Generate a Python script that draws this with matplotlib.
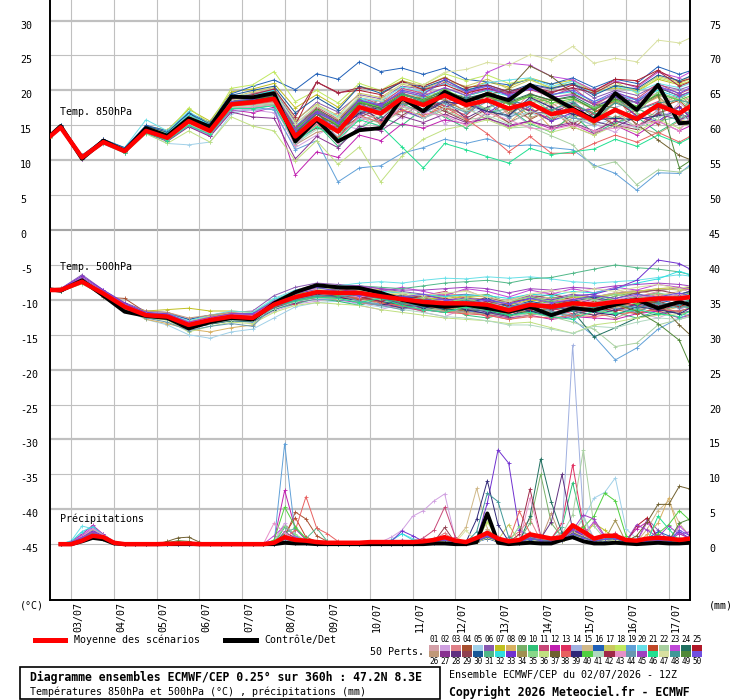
import numpy as np
import matplotlib
matplotlib.use("Agg")
import matplotlib.pyplot as plt
import matplotlib.transforms as mtransforms
from matplotlib.lines import Line2D
from matplotlib.patches import Rectangle

plt.rcParams["font.family"] = ["DejaVu Sans Mono", "DejaVu Sans"]

# hours after 02/07/2026 12Z
temp_hours = [0, 6, 18, 30, 42, 54, 66, 78, 90, 102, 114, 126, 138, 150, 162, 174,
              186, 198, 210, 222, 234, 246, 258, 270, 282, 294, 306, 318, 330, 342, 354, 360]
rain_hours = np.arange(6, 361, 6)

dates = ["03/07", "04/07", "05/07", "06/07", "07/07", "08/07", "09/07", "10/07",
         "11/07", "12/07", "13/07", "14/07", "15/07", "16/07", "17/07"]
date_hours = [12, 36, 60, 84, 108, 132, 156, 180, 204, 228, 252, 276, 300, 324, 348]

left_ticks = [30, 25, 20, 15, 10, 5, 0, -5, -10, -15, -20, -25, -30, -35, -40, -45]
right_ticks = [75, 70, 65, 60, 55, 50, 45, 40, 35, 30, 25, 20, 15, 10, 5, 0]
PRECIP_BASE = -45  # 0 mm sits on the -45 line

member_colors = [
    "#d4a0a8", "#d0a0e0", "#e08088", "#a85030", "#a0d0e8", "#8858b0", "#c0c020", "#d8b060",
    "#78b068", "#30c078", "#c84878", "#c020b0", "#e03060", "#a0b0e0", "#d0b888", "#2060b8",
    "#c8c860", "#c0e860", "#60a0d8", "#68e0e8", "#c04828", "#a8d0a0", "#c048d8", "#207060",
    "#b01828", "#c09878", "#883090", "#603080", "#904050", "#185898", "#50b888", "#30e0e0",
    "#7030d0", "#a09050", "#88d888", "#c0e080", "#706030", "#e86060", "#302878", "#50d040",
    "#b0d8c0", "#a02848", "#e890c8", "#6898b0", "#a040c0", "#20e090", "#d8e0a0", "#409898",
    "#508838", "#7050e0",
]

# ---- Temp 850 hPa (deg C)
t850_mean = [13.4, 14.7, 10.4, 12.6, 11.3, 14.2, 13.2, 15.6, 14.2, 18.0, 18.3, 18.8, 13.4, 16.0, 14.1, 17.6,
             16.7, 18.9, 17.9, 19.3, 17.9, 18.6, 17.4, 18.2, 16.6, 17.2, 15.6, 17.2, 15.9, 17.9, 16.7, 17.7]
t850_ctrl = [13.5, 14.9, 10.2, 12.8, 11.3, 14.6, 13.5, 16.0, 14.8, 19.1, 19.0, 19.6, 12.7, 15.8, 12.7, 14.3,
             14.6, 18.9, 17.0, 19.8, 18.4, 19.5, 18.6, 20.8, 19.1, 17.4, 15.8, 19.6, 17.2, 20.8, 15.3, 15.4]
t850_members = [
    [13.5, 14.9, 10.7, 12.8, 11.5, 14.6, 13.8, 16.4, 14.9, 18.9, 19.6, 20.2, 15.4, 17.2, 15.8, 18.9, 18.4, 20.1, 19.4, 20.2, 19.6, 20.4, 19.8, 20.3, 18.9, 19.6, 17.9, 18.8, 18.2, 19.7, 18.8, 19.6],
    [13.3, 14.6, 10.3, 12.4, 11.2, 14.0, 13.0, 15.2, 13.8, 17.4, 17.2, 16.8, 11.8, 13.6, 15.2, 14.4, 17.8, 16.0, 18.6, 15.2, 16.8, 19.4, 17.2, 15.0, 16.6, 18.8, 15.2, 14.0, 16.8, 15.4, 18.2, 17.0],
    [13.4, 14.7, 10.5, 12.7, 11.4, 14.3, 13.3, 15.9, 14.5, 18.2, 18.8, 19.4, 14.6, 15.4, 16.8, 16.2, 19.2, 17.6, 20.4, 18.8, 17.0, 19.8, 16.4, 19.6, 18.2, 16.4, 17.8, 19.6, 14.8, 17.2, 19.8, 18.4],
    [13.6, 14.9, 10.4, 12.9, 11.6, 14.8, 14.0, 16.8, 14.6, 18.5, 19.0, 20.0, 12.8, 17.0, 13.0, 18.8, 15.0, 17.6, 19.4, 17.2, 18.8, 16.4, 18.6, 15.8, 17.4, 14.6, 16.8, 18.6, 16.4, 15.2, 17.8, 16.2],
    [13.2, 14.5, 10.2, 12.3, 11.0, 13.8, 12.4, 12.2, 12.6, 16.6, 17.5, 18.0, 12.1, 14.8, 13.2, 16.1, 15.5, 17.8, 17.0, 18.1, 16.9, 17.5, 16.4, 16.8, 15.8, 16.2, 14.9, 16.1, 14.5, 16.9, 15.6, 16.2],
    [13.5, 14.8, 10.5, 12.6, 11.3, 14.4, 13.4, 15.8, 14.4, 18.4, 19.2, 19.9, 15.6, 18.3, 16.9, 19.4, 18.8, 20.6, 20.2, 21.0, 20.1, 20.6, 19.6, 20.7, 20.2, 20.9, 18.9, 20.0, 19.3, 20.8, 20.1, 20.6],
    [13.4, 14.6, 10.6, 12.9, 11.6, 14.9, 14.3, 17.3, 15.6, 19.8, 20.2, 21.0, 17.5, 19.4, 17.6, 20.6, 19.9, 21.4, 20.6, 21.9, 20.3, 21.2, 20.5, 21.8, 20.9, 21.5, 19.7, 20.4, 19.9, 21.6, 20.8, 21.3],
    [13.4, 14.7, 10.4, 12.5, 11.2, 14.1, 13.0, 15.4, 14.0, 17.8, 18.0, 18.2, 13.0, 15.6, 15.8, 16.4, 18.2, 19.6, 16.0, 18.2, 19.6, 17.0, 15.4, 17.8, 14.6, 16.0, 17.4, 15.0, 17.6, 19.0, 15.8, 15.4],
    [13.3, 14.6, 10.4, 12.6, 11.4, 14.2, 13.2, 15.7, 14.3, 18.1, 18.4, 19.1, 13.6, 16.8, 14.8, 17.0, 18.8, 17.4, 19.8, 17.6, 16.4, 19.8, 18.6, 16.4, 18.8, 17.0, 15.4, 18.6, 17.4, 16.2, 19.4, 18.0],
    [13.4, 14.8, 10.5, 12.7, 11.3, 14.2, 13.1, 15.3, 14.1, 17.7, 17.4, 17.9, 12.4, 15.2, 12.0, 14.6, 16.2, 15.0, 17.4, 16.2, 14.6, 16.8, 17.4, 15.2, 14.0, 16.6, 13.8, 15.4, 16.2, 14.0, 15.8, 16.8],
    [13.5, 14.9, 10.6, 12.8, 11.5, 14.4, 13.5, 16.1, 14.7, 18.6, 19.5, 20.1, 14.8, 17.6, 15.9, 19.0, 18.0, 20.3, 19.6, 21.2, 19.8, 20.3, 19.6, 20.1, 19.2, 20.4, 18.1, 19.6, 18.8, 21.0, 19.5, 20.2],
    [13.3, 14.5, 10.2, 12.4, 11.1, 13.9, 12.9, 15.0, 13.5, 17.2, 16.8, 17.6, 7.9, 11.2, 10.4, 13.6, 12.8, 15.2, 14.6, 15.8, 15.2, 16.0, 14.8, 15.6, 14.5, 15.2, 13.8, 15.0, 13.6, 15.6, 14.2, 14.9],
    [13.4, 14.7, 10.3, 12.5, 11.2, 14.1, 13.2, 15.5, 14.2, 18.0, 18.1, 18.6, 13.2, 15.0, 14.8, 17.0, 15.6, 18.0, 18.8, 17.8, 16.4, 19.0, 18.2, 17.0, 16.0, 18.0, 16.6, 15.8, 17.2, 18.4, 16.6, 17.8],
    [13.2, 14.5, 10.3, 12.5, 11.1, 14.0, 12.8, 14.8, 13.6, 17.0, 17.2, 17.4, 12.8, 15.8, 13.4, 16.2, 17.2, 18.8, 16.6, 18.4, 19.0, 17.0, 16.2, 18.8, 17.6, 16.2, 15.0, 17.6, 18.4, 17.0, 16.0, 18.6],
    [13.5, 14.8, 10.5, 12.7, 11.4, 14.4, 13.4, 16.0, 14.6, 18.4, 18.9, 19.3, 14.2, 16.8, 15.0, 18.3, 17.8, 19.6, 18.9, 20.0, 18.8, 19.4, 18.2, 19.1, 17.9, 18.6, 17.3, 18.2, 17.2, 19.3, 18.3, 19.0],
    [13.6, 15.0, 10.6, 13.0, 11.7, 15.0, 14.2, 16.8, 15.4, 19.5, 20.6, 21.5, 20.1, 22.4, 21.6, 24.1, 22.7, 23.2, 22.3, 23.2, 21.6, 21.2, 20.8, 21.6, 20.9, 21.8, 20.4, 21.6, 21.0, 23.4, 22.3, 22.8],
    [13.4, 14.7, 10.4, 12.6, 11.3, 14.3, 13.5, 16.3, 14.9, 19.0, 19.8, 20.4, 15.8, 18.0, 16.4, 19.6, 19.0, 20.9, 20.2, 21.4, 20.6, 21.6, 20.2, 21.5, 20.4, 21.0, 19.8, 20.8, 20.0, 22.0, 21.2, 22.0],
    [13.3, 14.6, 10.5, 12.8, 11.6, 14.7, 14.0, 17.5, 15.2, 20.3, 20.8, 22.7, 18.4, 20.0, 18.2, 21.0, 20.0, 21.8, 20.8, 22.4, 21.4, 22.2, 21.0, 21.6, 20.2, 21.4, 20.0, 21.2, 19.6, 21.8, 21.0, 21.6],
    [13.3, 14.6, 10.3, 12.4, 11.2, 13.9, 12.8, 15.0, 13.8, 17.3, 17.6, 17.2, 11.5, 12.8, 6.9, 8.9, 9.2, 11.0, 11.8, 13.0, 12.4, 13.1, 12.0, 12.2, 11.8, 11.5, 9.3, 8.1, 5.7, 8.2, 8.1, 9.3],
    [13.5, 14.9, 10.6, 12.9, 11.8, 15.8, 14.2, 17.0, 15.0, 19.2, 19.4, 20.0, 15.2, 17.8, 16.2, 18.9, 18.5, 20.5, 19.8, 21.0, 19.9, 21.1, 21.5, 21.8, 20.6, 21.3, 19.5, 20.6, 19.8, 21.0, 20.4, 21.0],
    [13.4, 14.7, 10.4, 12.6, 11.4, 14.2, 13.3, 15.6, 14.3, 18.2, 18.5, 19.0, 13.7, 16.6, 15.0, 16.8, 18.0, 19.6, 18.6, 17.4, 19.2, 20.0, 18.2, 17.2, 15.6, 17.8, 16.8, 18.6, 16.4, 17.4, 18.6, 17.0],
    [13.3, 14.6, 10.4, 12.5, 11.2, 14.1, 13.0, 15.1, 13.9, 17.6, 17.9, 18.3, 12.6, 15.0, 13.3, 16.5, 15.2, 17.0, 16.0, 17.2, 15.8, 16.2, 14.6, 14.8, 13.5, 12.2, 9.0, 9.8, 6.5, 8.6, 8.3, 9.0],
    [13.4, 14.8, 10.5, 12.7, 11.5, 14.5, 13.6, 16.0, 14.6, 18.6, 18.8, 19.4, 14.0, 16.6, 14.6, 18.0, 17.1, 19.5, 18.6, 20.0, 18.4, 22.6, 23.9, 23.6, 22.0, 21.5, 20.0, 21.4, 20.4, 22.6, 21.8, 22.6],
    [13.5, 14.8, 10.4, 12.6, 11.3, 14.3, 13.3, 15.8, 14.4, 18.3, 18.6, 19.2, 14.4, 17.0, 15.2, 18.4, 17.4, 19.4, 18.7, 19.9, 18.9, 19.6, 18.4, 19.5, 18.6, 19.2, 17.6, 19.0, 18.3, 20.4, 19.2, 19.8],
    [13.4, 14.7, 10.5, 12.7, 11.4, 14.3, 13.2, 15.7, 14.3, 18.1, 18.6, 19.0, 15.0, 21.2, 19.7, 20.0, 19.4, 21.3, 20.1, 20.8, 19.6, 20.3, 19.4, 20.5, 19.6, 20.8, 19.9, 21.6, 21.4, 22.9, 21.2, 21.7],
    [13.4, 14.7, 10.3, 12.5, 11.2, 14.0, 13.1, 15.3, 14.0, 17.8, 17.8, 18.1, 12.2, 14.0, 14.6, 15.6, 16.8, 17.0, 18.2, 16.4, 17.6, 15.8, 17.2, 16.0, 17.4, 14.8, 13.6, 16.4, 14.8, 13.8, 15.6, 16.6],
    [13.3, 14.6, 10.2, 12.4, 11.1, 13.9, 12.7, 14.8, 13.4, 16.9, 16.2, 16.0, 10.2, 13.4, 11.8, 14.9, 14.2, 16.3, 15.4, 16.6, 15.4, 16.0, 15.0, 15.6, 14.8, 15.4, 14.2, 15.6, 14.8, 16.6, 15.8, 16.4],
    [13.5, 14.8, 10.4, 12.7, 11.4, 14.4, 13.4, 15.9, 14.5, 18.5, 18.8, 19.6, 13.2, 16.2, 13.0, 17.6, 15.8, 18.6, 17.0, 18.6, 16.0, 17.6, 18.6, 17.0, 16.6, 18.2, 15.6, 14.8, 16.2, 17.6, 17.0, 15.6],
    [13.4, 14.7, 10.4, 12.6, 11.3, 14.2, 13.2, 15.6, 14.2, 18.0, 18.2, 18.6, 13.0, 14.6, 14.2, 16.2, 17.4, 16.4, 18.2, 17.0, 15.6, 17.4, 15.4, 16.8, 17.8, 15.2, 16.8, 15.0, 14.4, 16.8, 17.6, 16.2],
    [13.6, 15.0, 10.7, 13.0, 11.8, 14.9, 14.0, 16.7, 15.2, 19.3, 20.0, 20.6, 16.8, 19.0, 17.2, 20.6, 19.6, 21.2, 20.4, 21.5, 20.0, 20.8, 19.8, 20.9, 20.3, 21.0, 19.3, 20.7, 20.2, 22.2, 21.4, 22.0],
    [13.3, 14.6, 10.5, 12.6, 11.3, 14.2, 13.2, 15.5, 14.2, 17.9, 18.1, 18.5, 13.4, 15.4, 15.2, 16.6, 17.4, 18.2, 16.6, 19.6, 18.6, 17.0, 16.4, 18.6, 15.8, 18.0, 16.8, 16.0, 17.6, 15.6, 16.2, 18.2],
    [13.5, 14.8, 10.5, 12.8, 11.5, 14.6, 13.8, 16.5, 15.0, 18.8, 19.3, 20.0, 14.9, 17.2, 15.4, 18.8, 17.9, 19.9, 19.0, 20.4, 19.2, 20.0, 19.2, 20.4, 19.4, 19.8, 18.4, 19.4, 18.6, 20.0, 19.0, 19.6],
    [13.4, 14.8, 10.4, 12.6, 11.3, 14.3, 13.3, 15.7, 14.4, 18.2, 18.6, 19.5, 13.8, 17.2, 15.4, 16.4, 18.2, 17.2, 16.0, 17.6, 18.8, 16.6, 19.0, 17.4, 15.6, 16.8, 17.4, 19.2, 16.2, 15.6, 17.6, 16.2],
    [13.4, 14.7, 10.5, 12.8, 11.4, 14.4, 13.4, 15.9, 14.5, 18.3, 18.8, 19.2, 14.2, 15.8, 15.6, 18.8, 16.6, 18.2, 19.2, 18.6, 17.0, 19.4, 16.8, 18.2, 18.8, 16.8, 15.2, 18.4, 17.4, 19.2, 16.4, 18.8],
    [13.3, 14.6, 10.3, 12.5, 11.2, 14.0, 12.9, 15.2, 13.9, 17.5, 17.6, 18.0, 12.8, 15.2, 13.2, 17.8, 16.8, 17.6, 17.0, 19.4, 18.4, 17.4, 18.8, 19.0, 17.0, 18.8, 17.6, 18.6, 16.8, 19.8, 18.6, 17.6],
    [13.2, 14.5, 10.3, 12.4, 11.0, 13.8, 12.4, 14.2, 12.6, 16.2, 14.9, 14.2, 9.9, 12.8, 9.4, 11.9, 6.9, 10.6, 13.0, 14.4, 15.0, 15.8, 14.6, 15.4, 14.0, 14.8, 13.6, 15.0, 14.0, 15.8, 14.6, 15.4],
    [13.5, 14.8, 10.5, 12.7, 11.4, 14.3, 13.4, 15.8, 14.4, 18.4, 18.7, 19.3, 14.6, 17.4, 15.6, 18.6, 17.7, 19.4, 18.5, 19.6, 18.6, 19.3, 20.2, 23.5, 22.0, 19.6, 18.0, 17.5, 15.2, 12.9, 10.7, 10.1],
    [13.4, 14.7, 10.4, 12.6, 11.2, 14.1, 13.1, 15.4, 14.1, 17.9, 18.0, 18.4, 12.6, 15.2, 13.2, 16.4, 15.4, 17.2, 16.4, 17.6, 15.9, 13.8, 11.2, 13.4, 11.0, 11.0, 12.4, 13.6, 12.6, 14.0, 12.6, 13.4],
    [13.5, 14.8, 10.5, 12.7, 11.4, 14.3, 13.3, 15.8, 14.4, 18.3, 18.6, 19.1, 13.8, 16.8, 14.0, 16.8, 17.6, 19.4, 16.8, 18.4, 18.0, 17.0, 16.4, 19.0, 17.6, 16.6, 15.8, 16.0, 15.8, 16.4, 16.6, 15.8],
    [13.4, 14.7, 10.4, 12.6, 11.3, 14.3, 13.4, 15.8, 14.5, 18.4, 18.9, 19.6, 14.4, 17.2, 15.0, 18.4, 17.6, 19.4, 18.6, 20.2, 18.6, 19.2, 18.0, 19.2, 18.2, 18.8, 17.4, 18.6, 17.8, 19.5, 18.6, 19.2],
    [13.3, 14.6, 10.4, 12.5, 11.2, 14.1, 13.0, 15.2, 13.9, 17.6, 17.8, 18.2, 12.4, 14.4, 14.2, 15.8, 16.4, 17.8, 16.0, 17.6, 17.2, 16.4, 15.2, 17.0, 16.4, 15.6, 15.8, 17.0, 14.6, 16.2, 16.8, 15.6],
    [13.5, 14.9, 10.6, 12.9, 11.6, 14.6, 13.6, 16.2, 14.8, 18.8, 19.4, 20.2, 16.2, 21.2, 19.6, 20.4, 20.0, 21.2, 20.6, 21.8, 20.4, 20.8, 19.8, 20.6, 19.8, 20.4, 19.6, 21.2, 20.6, 22.8, 20.6, 21.2],
    [13.3, 14.6, 10.3, 12.5, 11.1, 14.0, 12.9, 15.0, 13.8, 17.4, 17.6, 17.9, 12.2, 15.4, 12.4, 16.4, 14.6, 17.8, 16.8, 16.4, 15.0, 16.8, 15.8, 14.6, 14.4, 15.0, 14.2, 14.6, 15.0, 15.6, 14.2, 16.2],
    [13.4, 14.7, 10.4, 12.6, 11.3, 14.2, 13.2, 15.6, 14.2, 18.0, 18.2, 18.7, 13.4, 15.6, 14.6, 17.0, 17.2, 18.0, 18.4, 18.2, 16.8, 18.4, 16.0, 17.8, 16.8, 16.0, 15.8, 17.4, 16.0, 18.2, 17.0, 16.8],
    [13.5, 14.8, 10.5, 12.8, 11.5, 14.5, 13.6, 16.1, 14.6, 18.6, 19.0, 19.6, 14.8, 17.0, 15.3, 18.6, 17.9, 19.8, 19.2, 20.4, 19.3, 20.2, 19.4, 20.4, 19.0, 19.4, 18.0, 19.6, 18.2, 20.6, 19.2, 19.8],
    [13.3, 14.6, 10.3, 12.4, 11.1, 13.9, 12.8, 15.0, 13.7, 17.4, 17.4, 17.8, 12.6, 14.8, 13.0, 15.8, 14.9, 11.9, 8.9, 12.4, 11.5, 10.5, 9.6, 11.7, 10.8, 11.2, 11.6, 13.0, 12.0, 13.6, 12.4, 13.2],
    [13.4, 14.7, 10.5, 12.7, 11.4, 14.4, 13.5, 16.0, 14.7, 18.6, 19.0, 19.8, 15.2, 17.8, 16.0, 19.2, 18.6, 21.0, 20.8, 22.6, 23.0, 24.0, 23.6, 25.1, 24.4, 26.3, 23.9, 24.6, 24.1, 27.2, 26.8, 27.5],
    [13.4, 14.7, 10.4, 12.6, 11.3, 14.2, 13.3, 15.7, 14.3, 18.1, 18.4, 18.9, 13.6, 16.8, 14.0, 18.2, 16.4, 19.6, 18.4, 19.0, 18.8, 18.6, 18.4, 18.0, 17.2, 18.4, 16.2, 18.2, 17.2, 18.2, 18.6, 18.2],
    [13.4, 14.7, 10.4, 12.6, 11.3, 14.3, 13.4, 15.8, 14.4, 18.3, 18.7, 19.2, 14.0, 16.6, 14.9, 18.2, 17.4, 19.1, 18.3, 19.8, 18.5, 19.4, 18.2, 19.4, 18.6, 19.0, 17.2, 18.8, 17.6, 19.4, 8.9, 9.9],
    [13.5, 14.8, 10.5, 12.7, 11.4, 14.4, 13.5, 15.9, 14.5, 18.4, 18.8, 19.4, 14.2, 16.8, 15.4, 18.6, 17.8, 20.0, 19.4, 21.6, 19.8, 20.6, 19.2, 20.2, 19.4, 20.0, 18.4, 19.8, 18.6, 20.6, 19.6, 20.4],
]

# ---- Temp 500 hPa (deg C)
t500_mean = [-8.6, -8.6, -7.4, -9.1, -11.0, -12.2, -12.4, -13.6, -12.9, -12.4, -12.6, -10.7, -9.6, -8.9, -9.0, -9.0,
             -9.5, -9.9, -10.3, -10.5, -10.5, -10.7, -11.5, -10.7, -11.0, -10.5, -10.7, -10.3, -10.1, -9.8, -9.8, -9.6]
t500_ctrl = [-8.5, -8.7, -7.2, -9.4, -11.7, -12.3, -12.6, -14.1, -13.2, -12.6, -12.8, -10.5, -8.9, -7.9, -8.2, -8.3,
             -9.0, -10.0, -10.7, -11.0, -10.7, -11.2, -11.7, -11.0, -12.2, -11.2, -11.5, -10.7, -10.0, -11.2, -10.3, -10.7]
t500_members = [
    [-8.5, -8.6, -7.3, -9.0, -10.9, -12.0, -12.3, -13.4, -12.8, -12.2, -12.4, -10.4, -8.6, -7.8, -8.8, -9.6, -8.4, -9.0, -10.4, -9.2, -8.6, -9.8, -10.6, -9.4, -8.8, -10.2, -9.0, -8.4, -9.6, -8.8, -8.2, -9.0],
    [-8.7, -8.7, -7.6, -9.3, -11.2, -12.4, -12.8, -14.0, -13.5, -13.0, -13.2, -11.6, -10.6, -10.2, -9.4, -10.8, -11.4, -10.6, -11.8, -12.4, -11.2, -12.0, -12.8, -11.6, -12.6, -11.4, -12.2, -11.0, -11.8, -12.6, -11.4, -10.8],
    [-8.6, -8.5, -7.2, -8.9, -10.8, -11.9, -12.1, -13.2, -12.6, -12.0, -12.2, -10.0, -9.0, -8.6, -9.8, -8.6, -9.4, -10.6, -9.8, -9.2, -10.4, -10.8, -10.0, -9.4, -10.6, -9.6, -10.8, -11.2, -10.0, -9.2, -10.2, -9.8],
    [-8.4, -8.3, -7.5, -9.6, -9.8, -11.8, -12.6, -13.8, -13.2, -12.8, -13.0, -11.2, -10.0, -9.4, -9.5, -9.6, -10.0, -10.5, -10.9, -11.2, -11.0, -11.3, -12.0, -11.2, -11.5, -11.0, -11.2, -10.8, -10.6, -10.4, -10.8, -11.0],
    [-8.7, -8.8, -7.7, -9.4, -11.4, -12.8, -13.6, -15.0, -15.5, -14.6, -14.2, -12.6, -11.0, -10.4, -10.2, -10.6, -11.0, -11.2, -11.5, -11.8, -11.6, -12.0, -12.4, -11.8, -12.0, -11.4, -11.8, -11.2, -11.0, -10.8, -10.6, -10.4],
    [-8.5, -8.4, -6.4, -8.6, -10.4, -11.6, -11.8, -12.8, -12.2, -11.8, -11.6, -9.4, -8.2, -7.6, -7.8, -8.0, -8.4, -8.8, -9.2, -9.4, -9.2, -9.6, -10.2, -9.4, -9.8, -9.2, -9.6, -9.0, -8.8, -8.6, -8.4, -8.2],
    [-8.6, -8.6, -7.4, -9.0, -10.8, -11.6, -11.4, -11.2, -11.6, -11.6, -11.8, -10.2, -9.0, -8.6, -8.8, -8.6, -9.0, -9.4, -9.8, -9.8, -9.6, -10.0, -10.8, -10.0, -10.4, -9.6, -9.8, -9.2, -8.8, -8.4, -8.2, -8.4],
    [-8.6, -8.7, -7.5, -9.2, -11.1, -12.8, -13.4, -14.2, -14.6, -14.0, -13.6, -11.0, -10.2, -9.6, -9.0, -9.8, -10.6, -11.2, -10.2, -11.4, -12.0, -10.8, -11.8, -11.2, -10.4, -11.6, -12.2, -11.0, -10.6, -11.8, -11.0, -10.4],
    [-8.5, -8.5, -7.3, -9.1, -11.0, -12.1, -12.3, -13.4, -12.7, -12.2, -12.3, -10.5, -9.0, -8.2, -8.4, -9.4, -10.2, -9.2, -9.8, -10.8, -9.6, -9.2, -10.4, -10.8, -9.6, -9.8, -10.6, -9.4, -9.0, -10.2, -9.4, -9.0],
    [-8.7, -8.8, -7.6, -9.3, -11.3, -12.5, -12.7, -13.9, -13.3, -12.8, -13.0, -11.3, -10.6, -9.8, -10.2, -10.8, -9.8, -10.6, -11.6, -11.0, -12.2, -12.6, -11.8, -11.0, -11.8, -12.4, -11.2, -11.8, -12.6, -11.6, -10.8, -11.2],
    [-8.6, -8.6, -7.4, -9.0, -10.9, -12.2, -12.4, -13.5, -12.9, -12.4, -12.5, -10.6, -9.2, -8.4, -8.2, -8.8, -9.6, -10.4, -9.4, -8.8, -9.8, -10.6, -11.8, -10.8, -9.8, -10.8, -11.4, -10.6, -9.6, -9.0, -10.0, -9.4],
    [-8.5, -8.4, -7.0, -8.8, -10.6, -11.9, -12.2, -13.3, -12.8, -12.4, -12.6, -11.0, -10.2, -9.8, -10.0, -10.4, -10.8, -11.0, -11.4, -11.8, -11.6, -12.0, -12.6, -12.2, -12.8, -12.4, -12.6, -12.8, -12.0, -11.6, -12.6, -12.2],
    [-8.6, -8.7, -7.5, -9.2, -11.1, -12.4, -12.6, -13.8, -13.1, -12.6, -12.8, -11.0, -10.6, -9.4, -9.8, -9.2, -10.4, -11.0, -11.6, -10.8, -11.4, -12.4, -11.6, -10.4, -11.2, -12.0, -11.4, -10.2, -10.8, -11.6, -10.6, -10.2],
    [-8.5, -8.6, -7.4, -9.1, -11.0, -12.2, -12.4, -13.6, -13.0, -12.6, -12.7, -10.9, -9.4, -8.8, -9.6, -9.6, -10.4, -9.6, -10.4, -11.4, -10.2, -11.0, -11.6, -10.2, -10.8, -11.4, -10.2, -10.8, -11.4, -10.4, -9.6, -10.4],
    [-8.6, -8.6, -7.4, -9.0, -10.9, -12.1, -12.2, -13.2, -12.4, -12.0, -12.2, -10.4, -8.8, -8.0, -8.4, -9.2, -8.6, -9.2, -9.8, -9.0, -9.6, -10.6, -10.0, -9.2, -9.8, -10.4, -9.6, -9.0, -8.6, -9.4, -8.8, -8.4],
    [-8.6, -8.7, -7.5, -9.2, -11.1, -12.0, -12.0, -12.8, -12.2, -12.2, -12.0, -10.8, -9.8, -9.2, -8.8, -9.4, -10.2, -10.8, -10.6, -11.4, -10.4, -10.8, -11.8, -11.2, -12.0, -11.0, -10.4, -11.4, -10.8, -10.0, -10.6, -10.2],
    [-8.5, -8.5, -7.3, -8.9, -10.8, -12.0, -12.1, -13.0, -12.4, -11.9, -12.0, -10.0, -8.8, -8.0, -8.0, -8.2, -8.6, -9.0, -9.4, -9.6, -9.4, -9.6, -10.4, -9.6, -10.0, -9.4, -9.6, -9.2, -8.8, -8.4, -8.6, -8.4],
    [-8.6, -8.6, -7.4, -9.0, -10.9, -12.2, -12.3, -13.4, -12.8, -12.3, -12.4, -10.6, -9.6, -8.4, -9.2, -8.8, -9.2, -10.0, -10.8, -10.0, -11.0, -11.6, -10.6, -9.8, -10.4, -9.8, -11.2, -10.8, -9.6, -10.0, -9.2, -9.8],
    [-8.7, -8.8, -7.6, -9.3, -11.2, -12.5, -12.8, -14.0, -13.4, -13.0, -13.2, -11.4, -10.4, -9.9, -10.0, -10.2, -10.6, -11.0, -11.4, -11.6, -11.6, -11.8, -12.2, -11.6, -11.6, -12.8, -15.2, -18.6, -16.9, -14.2, -12.6, -12.0],
    [-8.5, -8.4, -7.0, -8.7, -10.6, -11.8, -12.0, -13.0, -12.2, -11.6, -11.8, -9.8, -8.6, -8.0, -8.0, -7.6, -7.4, -7.6, -7.2, -6.9, -7.0, -6.7, -6.9, -6.7, -7.0, -7.4, -7.6, -7.4, -7.2, -6.8, -6.4, -6.6],
    [-8.6, -8.7, -7.5, -9.1, -11.0, -12.3, -12.5, -13.7, -13.0, -12.5, -12.6, -10.8, -10.0, -9.4, -9.4, -10.0, -9.6, -10.6, -10.2, -11.2, -11.6, -11.0, -12.4, -11.4, -10.6, -11.0, -10.2, -11.4, -12.0, -11.2, -10.4, -10.8],
    [-8.6, -8.6, -7.4, -9.1, -11.0, -12.2, -12.4, -13.6, -12.9, -12.4, -12.6, -10.8, -9.7, -9.1, -9.2, -9.4, -10.0, -10.6, -11.2, -11.6, -11.8, -12.0, -12.4, -12.0, -12.4, -13.2, -14.2, -16.7, -16.2, -13.6, -12.8, -12.4],
    [-8.5, -8.5, -7.2, -8.9, -10.8, -12.0, -12.2, -13.3, -12.6, -12.1, -12.2, -10.3, -8.8, -7.8, -8.2, -8.0, -8.8, -8.2, -8.8, -9.4, -8.4, -8.8, -9.6, -8.6, -9.2, -8.4, -9.0, -8.2, -8.6, -7.8, -8.2, -8.6],
    [-8.7, -8.8, -7.6, -9.4, -11.3, -12.6, -12.8, -14.1, -13.5, -13.0, -13.1, -11.4, -10.3, -9.7, -9.7, -9.8, -10.3, -10.7, -11.1, -11.4, -11.4, -11.6, -12.2, -11.6, -12.0, -11.6, -15.3, -14.0, -12.6, -12.0, -11.6, -11.2],
    [-8.6, -8.6, -7.4, -9.0, -10.9, -12.1, -12.3, -13.4, -12.8, -12.3, -12.4, -10.5, -9.8, -8.8, -9.4, -9.8, -9.2, -9.8, -9.6, -10.6, -10.8, -10.2, -10.8, -11.4, -10.6, -10.0, -11.0, -11.6, -10.6, -10.2, -11.0, -10.4],
    [-8.6, -8.7, -7.5, -9.2, -11.1, -11.6, -11.8, -12.6, -12.2, -11.8, -12.4, -11.0, -10.4, -9.8, -9.6, -10.4, -10.8, -10.0, -10.8, -11.6, -11.8, -12.2, -12.8, -12.2, -11.6, -12.4, -11.8, -12.6, -11.4, -11.0, -11.8, -12.4],
    [-8.5, -8.6, -7.4, -9.1, -11.0, -12.2, -12.4, -13.5, -12.9, -12.4, -12.6, -10.8, -9.4, -8.6, -8.8, -9.4, -9.8, -10.6, -11.2, -10.4, -11.0, -10.2, -11.0, -10.6, -11.4, -10.8, -9.8, -10.4, -9.6, -10.2, -9.4, -9.8],
    [-8.7, -8.7, -7.5, -9.2, -11.2, -12.4, -12.6, -13.8, -13.2, -12.7, -12.9, -11.1, -10.4, -9.8, -9.2, -9.6, -10.4, -11.2, -10.8, -10.2, -11.0, -11.8, -12.4, -11.0, -10.8, -11.6, -12.2, -11.4, -10.6, -11.2, -12.0, -11.6],
    [-8.6, -8.6, -7.4, -9.0, -10.9, -12.1, -12.3, -13.3, -12.7, -12.2, -12.4, -10.5, -8.8, -8.0, -8.6, -8.4, -9.0, -9.8, -9.4, -9.8, -10.6, -9.6, -10.4, -9.8, -9.2, -10.0, -9.4, -9.8, -9.0, -8.6, -9.2, -8.8],
    [-8.5, -8.5, -7.3, -9.0, -10.9, -12.1, -12.4, -13.5, -12.8, -12.3, -12.5, -10.6, -9.8, -9.0, -8.6, -9.0, -9.8, -9.4, -10.0, -10.8, -10.4, -9.8, -11.0, -10.2, -10.8, -10.2, -9.6, -10.2, -9.4, -9.8, -9.2, -8.8],
    [-8.6, -8.7, -7.5, -9.2, -11.1, -12.3, -12.5, -13.6, -13.0, -12.5, -12.6, -10.8, -9.4, -8.4, -8.2, -8.0, -8.2, -8.4, -8.0, -7.6, -7.4, -7.2, -7.6, -7.0, -6.8, -6.2, -5.6, -5.0, -5.4, -5.6, -6.0, -6.4],
    [-8.6, -8.6, -7.4, -9.0, -10.8, -12.0, -12.2, -13.3, -12.6, -12.0, -12.0, -10.0, -8.8, -8.2, -8.3, -8.4, -8.8, -9.0, -9.3, -9.5, -9.3, -9.4, -9.8, -9.2, -9.4, -8.8, -9.0, -8.4, -7.6, -7.0, -5.9, -6.4],
    [-8.5, -8.4, -6.6, -8.6, -10.5, -11.8, -12.0, -13.2, -12.6, -12.0, -12.0, -10.2, -9.0, -8.6, -8.6, -8.8, -9.2, -9.6, -10.0, -10.0, -9.8, -10.0, -10.6, -9.8, -10.0, -9.4, -9.2, -8.4, -7.2, -4.3, -4.8, -5.6],
    [-8.6, -8.6, -7.4, -9.1, -11.0, -12.2, -12.4, -13.6, -13.0, -12.5, -12.7, -10.9, -10.2, -9.6, -10.0, -9.6, -10.4, -10.8, -10.2, -11.0, -11.6, -10.8, -11.2, -12.0, -11.2, -10.6, -11.4, -10.8, -11.6, -10.8, -10.2, -10.6],
    [-8.5, -8.6, -7.4, -9.0, -10.9, -12.2, -12.4, -13.5, -12.9, -12.4, -12.5, -10.6, -9.4, -8.8, -8.6, -9.2, -9.6, -10.2, -9.6, -10.4, -9.8, -10.6, -10.2, -9.6, -10.2, -9.4, -10.0, -9.2, -9.8, -9.0, -9.6, -9.2],
    [-8.7, -8.8, -7.7, -9.4, -11.3, -12.6, -12.9, -14.6, -13.8, -13.2, -13.4, -11.8, -10.8, -10.4, -10.6, -10.8, -11.4, -11.8, -12.2, -12.6, -12.8, -13.0, -13.4, -13.2, -14.0, -14.8, -13.6, -13.2, -12.6, -12.2, -12.0, -11.8],
    [-8.6, -8.6, -7.4, -9.1, -11.0, -12.2, -12.4, -13.6, -13.0, -12.5, -12.6, -10.8, -9.7, -9.0, -9.1, -9.2, -9.7, -10.1, -10.5, -10.7, -10.7, -10.9, -11.6, -10.9, -11.2, -10.6, -10.8, -10.4, -10.2, -10.4, -13.6, -15.0],
    [-8.6, -8.7, -7.5, -9.2, -11.1, -12.3, -12.5, -13.7, -13.1, -12.6, -12.8, -11.0, -9.9, -9.4, -9.6, -9.8, -10.4, -10.9, -11.4, -11.8, -12.0, -12.2, -12.8, -12.4, -12.6, -12.2, -12.4, -12.0, -11.8, -11.4, -11.6, -11.2],
    [-8.5, -8.6, -7.4, -9.0, -10.9, -12.1, -12.3, -13.4, -12.8, -12.3, -12.5, -10.6, -9.8, -9.2, -9.6, -10.2, -10.8, -10.0, -11.2, -10.6, -11.4, -12.0, -11.0, -11.6, -12.4, -11.2, -11.8, -12.2, -11.0, -11.4, -12.0, -11.2],
    [-8.6, -8.6, -7.4, -9.1, -11.0, -12.2, -12.4, -13.5, -12.9, -12.4, -12.6, -10.7, -9.2, -8.8, -9.4, -9.0, -9.6, -10.4, -10.0, -10.8, -11.2, -10.4, -11.2, -10.8, -10.2, -10.8, -10.4, -9.8, -10.6, -10.0, -9.6, -10.2],
    [-8.7, -8.7, -7.6, -9.3, -11.2, -12.5, -12.7, -13.9, -13.4, -12.9, -13.0, -11.3, -10.3, -9.8, -9.9, -10.2, -10.8, -11.4, -11.8, -12.4, -12.6, -13.0, -13.6, -13.6, -14.2, -14.8, -13.8, -14.0, -13.2, -12.6, -12.8, -12.4],
    [-8.6, -8.7, -7.5, -9.2, -11.1, -12.4, -12.6, -13.7, -13.1, -12.6, -12.8, -11.0, -9.6, -9.0, -8.8, -9.6, -10.2, -9.6, -10.6, -11.0, -10.4, -11.2, -11.8, -10.8, -11.4, -10.6, -11.0, -10.4, -10.0, -10.8, -10.2, -9.6],
    [-8.5, -8.5, -7.3, -8.9, -10.8, -12.0, -12.2, -13.2, -12.6, -12.1, -12.2, -10.2, -9.0, -8.4, -9.2, -9.6, -9.0, -9.8, -10.6, -10.0, -10.6, -11.0, -10.2, -10.8, -10.4, -9.8, -10.4, -10.0, -9.4, -9.8, -9.2, -9.6],
    [-8.6, -8.6, -7.4, -9.1, -11.0, -12.6, -13.2, -14.4, -13.8, -13.4, -13.8, -10.8, -10.0, -9.4, -9.2, -10.2, -10.8, -11.4, -10.6, -10.2, -11.2, -11.6, -11.0, -10.4, -11.6, -12.2, -10.8, -11.2, -11.8, -10.6, -11.2, -10.8],
    [-8.5, -8.4, -6.8, -8.7, -10.6, -11.9, -12.1, -13.2, -12.5, -12.0, -12.1, -10.2, -9.0, -8.2, -8.1, -8.0, -8.4, -8.6, -8.6, -8.4, -8.2, -8.4, -9.0, -8.4, -8.6, -8.2, -8.4, -8.0, -7.8, -7.6, -7.8, -8.0],
    [-8.6, -8.7, -7.5, -9.2, -11.1, -12.3, -12.5, -13.6, -13.0, -12.5, -12.7, -10.9, -10.2, -9.6, -9.8, -10.4, -9.8, -10.8, -11.4, -11.8, -11.0, -11.4, -12.2, -11.8, -12.4, -12.8, -11.6, -12.0, -11.4, -12.0, -12.4, -11.6],
    [-8.6, -8.6, -7.4, -9.0, -10.9, -12.1, -12.3, -13.4, -12.8, -12.3, -12.4, -10.5, -9.4, -8.6, -8.2, -8.6, -9.2, -9.0, -9.4, -9.0, -8.8, -9.6, -10.2, -9.2, -8.6, -9.0, -8.4, -8.8, -8.2, -7.8, -8.4, -8.0],
    [-8.6, -8.7, -7.5, -9.2, -11.1, -12.3, -12.6, -13.7, -13.1, -12.6, -12.8, -11.0, -10.0, -9.4, -9.6, -9.2, -9.8, -10.4, -11.0, -10.6, -10.0, -10.8, -11.4, -10.4, -11.0, -11.6, -11.0, -10.6, -11.2, -10.4, -10.8, -10.0],
    [-8.6, -8.6, -7.4, -9.1, -11.0, -12.2, -12.4, -13.5, -12.9, -12.4, -12.6, -10.8, -9.6, -8.9, -9.0, -9.1, -9.6, -10.0, -10.4, -10.6, -10.6, -10.8, -11.5, -10.8, -11.0, -10.6, -10.8, -10.6, -11.6, -13.4, -15.8, -19.3],
    [-8.5, -8.5, -7.3, -9.0, -10.9, -12.1, -12.3, -13.4, -12.8, -12.3, -12.4, -10.5, -9.0, -8.2, -8.8, -9.4, -9.0, -9.6, -9.2, -10.0, -10.6, -10.0, -10.6, -9.8, -10.4, -10.0, -9.4, -9.8, -9.2, -9.6, -9.0, -9.4],
]

# ---- Precipitation (mm per 6 h), one value every 6 h from +6h to +360h
rain_mean = [0, 0, 0.5, 1.2, 1.0, 0.2, 0, 0, 0, 0, 0.05, 0.1,
             0.1, 0, 0, 0, 0, 0, 0, 0, 0.2, 1.0, 0.6, 0.5,
             0.3, 0.2, 0.2, 0.2, 0.2, 0.3, 0.3, 0.3, 0.3, 0.3, 0.4, 0.6,
             1.0, 0.5, 0.3, 0.9, 1.6, 0.8, 0.4, 0.6, 1.4, 1.1, 0.8, 1.0,
             2.7, 1.8, 0.8, 1.2, 1.2, 0.6, 0.5, 0.8, 0.9, 0.8, 0.6, 0.8]
rain_ctrl = [0, 0, 0.4, 0.9, 0.7, 0.1, 0, 0, 0, 0, 0, 0,
             0, 0, 0, 0, 0, 0, 0, 0, 0, 0.2, 0.1, 0.1,
             0, 0, 0, 0, 0, 0, 0, 0, 0, 0, 0, 0.1,
             0.1, 0, 0, 0.3, 4.4, 0.2, 0, 0.1, 0.2, 0.1, 0.1, 0.6,
             1.0, 0.4, 0.1, 0.1, 0.2, 0.1, 0, 0.1, 0.2, 0.1, 0.1, 0.2]
rain_members = [
    [0, 0.3, 1.0, 1.5, 1.0, 0.2, 0, 0, 0, 0, 0, 0, 0, 0, 0, 0, 0, 0, 0, 0, 0, 0.6, 0.3, 0.1, 0, 0, 0, 0, 0, 0, 0, 0, 0, 0, 0.2, 0.9, 1.2, 0.3, 0, 0.4, 2.1, 0.8, 0.2, 0.3, 1.6, 1.0, 0.6, 0.9, 2.6, 1.4, 0.3, 1.2, 0.8, 0.2, 0.1, 0.6, 0.4, 0.3, 0.8, 0.4],
    [0, 0.2, 0.7, 1.2, 0.8, 0.1, 0, 0, 0, 0, 0, 0, 0, 0, 0, 0, 0, 0, 0, 0, 0.5, 3.0, 1.2, 0.4, 0.2, 0.1, 0, 0, 0, 0, 0.3, 1.0, 2.0, 4.0, 4.8, 6.2, 7.2, 0.8, 0.3, 0.5, 1.2, 0.6, 0.3, 0.2, 0.9, 0.6, 0.3, 0.5, 1.4, 0.9, 0.4, 0.6, 0.5, 0.2, 0.2, 0.4, 0.5, 0.3, 0.4, 0.3],
    [0, 0.2, 0.9, 1.4, 1.1, 0.3, 0, 0, 0, 0, 0, 0, 0, 0, 0, 0, 0, 0, 0, 0, 0.2, 1.0, 0.8, 0.3, 0.1, 0, 0, 0, 0, 0, 0, 0, 0, 0.2, 0.4, 0.6, 1.6, 0.4, 0.2, 0.3, 1.0, 0.5, 0.8, 1.8, 3.6, 0.5, 0.3, 0.6, 1.8, 0.9, 0.5, 1.0, 0.6, 0.3, 0.2, 0.4, 0.8, 0.6, 0.5, 0.7],
    [0, 0.1, 0.6, 1.1, 0.9, 0.2, 0, 0, 0, 0, 0, 0, 0, 0, 0, 0, 0, 0, 0, 0, 0, 0.9, 4.6, 3.6, 1.2, 0.4, 0.1, 0, 0, 0, 0, 0, 0, 0, 0.2, 0.3, 0.6, 0.2, 0.1, 0.4, 0.9, 0.3, 0.2, 0.5, 0.7, 0.4, 0.3, 0.4, 1.2, 0.8, 0.3, 0.6, 0.7, 0.3, 0.2, 0.3, 0.4, 0.5, 0.3, 0.4],
    [0, 0.4, 1.6, 2.6, 1.4, 0.4, 0, 0, 0, 0, 0, 0, 0, 0, 0, 0, 0, 0, 0, 0, 0, 0.3, 0.2, 0.1, 0, 0, 0, 0, 0, 0, 0, 0, 0, 0, 0.1, 0.2, 0.5, 0.2, 0.1, 0.3, 0.8, 0.4, 0.2, 0.3, 0.6, 0.8, 0.5, 1.0, 1.6, 3.6, 6.6, 7.4, 9.5, 2.2, 0.8, 0.4, 0.6, 0.4, 0.3, 0.5],
    [0, 0.3, 1.2, 2.1, 1.4, 0.3, 0, 0, 0, 0, 0, 0, 0, 0, 0, 0, 0, 0, 0, 0, 0.2, 1.3, 0.6, 0.2, 0, 0, 0, 0, 0, 0, 0, 0, 0.6, 0.3, 0.2, 0.4, 0.7, 0.3, 0.2, 0.6, 1.8, 1.0, 0.3, 0.4, 1.4, 0.9, 0.4, 0.7, 2.4, 1.6, 0.6, 0.9, 1.3, 0.5, 0.3, 3.6, 2.0, 0.6, 0.9, 0.6],
    [0, 0.2, 0.8, 1.3, 1.0, 0.2, 0, 0, 0, 0, 0, 0, 0, 0, 0, 0, 0, 0, 0, 0, 0, 0.4, 0.2, 0.1, 0, 0, 0, 0, 0, 0, 0, 0, 0, 0.1, 0.2, 0.5, 0.9, 0.3, 0.1, 0.4, 1.1, 0.7, 0.3, 0.2, 0.8, 0.5, 0.3, 0.4, 1.5, 1.0, 3.0, 2.0, 0.8, 0.2, 0.2, 0.3, 0.7, 0.4, 0.5, 0.3],
    [0, 0.2, 0.9, 1.4, 1.0, 0.2, 0, 0, 0, 0, 0, 0, 0, 0, 0, 0, 0, 0, 0, 0, 0, 0.5, 0.3, 0.2, 0, 0, 0, 0, 0, 0, 0, 0, 0, 0, 0.3, 0.4, 0.6, 0.2, 0.1, 0.8, 1.9, 0.6, 0.2, 0.3, 0.9, 0.5, 0.3, 0.6, 1.3, 0.8, 0.4, 0.6, 0.7, 0.3, 0.2, 1.4, 3.0, 6.6, 1.5, 0.8],
    [0, 0.2, 0.7, 1.2, 0.9, 0.2, 0, 0, 0, 0, 0, 0, 0, 0, 0, 0, 0, 0, 0, 0, 0.3, 1.6, 1.0, 0.4, 0.1, 0, 0, 0, 0, 0, 0, 0, 0, 0, 0.2, 0.3, 0.8, 0.3, 0.2, 0.5, 1.4, 0.4, 0.3, 0.6, 3.0, 10.0, 3.0, 1.0, 1.2, 0.8, 0.3, 0.7, 0.9, 0.3, 0.2, 0.5, 0.6, 0.4, 0.8, 0.6],
    [0, 0.3, 1.1, 1.7, 1.2, 0.3, 0, 0, 0, 0, 0, 0, 0, 0, 0, 0, 0, 0, 0, 0, 0.1, 2.4, 1.2, 0.4, 0.1, 0, 0, 0, 0, 0, 0, 0, 0, 0, 0.2, 0.4, 0.7, 0.2, 0.2, 0.4, 1.3, 0.6, 0.3, 0.4, 0.9, 0.6, 0.9, 2.4, 8.8, 2.4, 0.6, 0.8, 1.0, 0.4, 0.2, 0.5, 0.7, 0.5, 0.6, 0.4],
    [0, 0.2, 0.8, 1.5, 1.1, 0.2, 0, 0, 0, 0, 0, 0, 0, 0, 0, 0, 0, 0, 0, 0, 0, 0.7, 0.4, 0.2, 0, 0, 0, 0, 0, 0, 0, 0, 0, 0.2, 0.9, 2.0, 5.3, 1.0, 0.2, 0.5, 1.4, 0.6, 0.2, 0.4, 1.1, 0.8, 0.4, 0.6, 1.9, 1.1, 0.5, 0.8, 0.7, 0.3, 0.2, 0.4, 0.6, 0.5, 0.7, 0.4],
    [0, 0.4, 1.4, 2.7, 1.4, 0.3, 0, 0, 0, 0, 0, 0, 0, 0, 0, 0, 0, 0, 0, 0, 0.5, 7.7, 2.2, 0.6, 0.2, 0, 0, 0, 0, 0, 0, 0, 0, 0, 0.2, 0.5, 0.9, 0.3, 0.2, 0.6, 1.6, 0.7, 0.3, 0.5, 1.3, 0.6, 0.4, 0.7, 2.2, 1.4, 0.5, 0.9, 1.0, 0.5, 2.2, 3.2, 1.0, 0.6, 1.5, 0.8],
    [0, 0.2, 0.7, 1.3, 0.9, 0.2, 0, 0, 0, 0, 0, 0, 0, 0, 0, 0, 0, 0, 0, 0, 0.2, 0.9, 0.5, 0.2, 0, 0, 0, 0, 0, 0, 0, 0, 0, 0, 0.1, 0.3, 0.6, 0.2, 0.1, 0.3, 1.0, 0.4, 0.2, 0.3, 0.8, 0.6, 0.8, 3.0, 11.4, 2.6, 0.6, 0.8, 1.6, 0.4, 0.2, 0.4, 0.5, 0.3, 0.5, 0.6],
    [0, 0.2, 0.9, 1.6, 1.0, 0.3, 0, 0, 0, 0, 0, 0, 0, 0, 0, 0, 0, 0, 0, 0, 0, 0.6, 0.3, 0.1, 0, 0, 0, 0, 0, 0, 0, 0, 0, 0.1, 0.4, 0.3, 0.6, 0.2, 0.1, 0.4, 1.0, 0.5, 0.2, 0.3, 0.7, 0.4, 0.6, 1.8, 28.5, 4.0, 0.8, 0.6, 0.7, 0.3, 0.2, 0.3, 0.6, 0.4, 0.5, 0.3],
    [0, 0.3, 1.0, 1.8, 1.2, 0.3, 0, 0, 0, 0, 0, 0, 0, 0, 0, 0, 0, 0, 0, 0, 0.2, 1.1, 0.6, 0.3, 0, 0, 0, 0, 0, 0, 0, 0, 0, 0, 0.2, 0.5, 0.8, 0.5, 2.4, 8.0, 2.2, 0.8, 0.3, 0.4, 1.2, 0.7, 0.5, 0.8, 1.9, 1.3, 0.5, 0.9, 0.8, 0.4, 0.3, 2.2, 4.8, 6.2, 3.0, 1.1],
    [0, 0.2, 0.8, 1.3, 0.9, 0.2, 0, 0, 0, 0, 0, 0, 0, 0, 0, 0, 0, 0, 0, 0, 0, 0.4, 0.2, 0.1, 0, 0, 0, 0, 0, 0, 0, 0, 0, 0, 0.1, 0.2, 0.4, 0.2, 0.1, 0.3, 0.8, 0.3, 0.2, 0.2, 0.6, 0.4, 0.3, 0.5, 1.0, 0.6, 0.3, 0.5, 0.6, 0.2, 0.3, 0.8, 1.8, 1.2, 0.7, 0.9],
    [0, 0.1, 0.6, 1.0, 0.8, 0.1, 0, 0, 0, 0, 0, 0, 0, 0, 0, 0, 0, 0, 0, 0, 0, 0.5, 0.3, 0.1, 0, 0, 0, 0, 0, 0, 0, 0, 0, 0, 0.2, 0.4, 0.7, 0.3, 0.1, 0.5, 1.3, 0.6, 2.8, 0.3, 0.9, 0.7, 0.4, 0.5, 1.7, 1.0, 0.4, 0.7, 0.8, 0.3, 0.2, 0.4, 0.6, 0.4, 0.9, 0.5],
    [0, 0.3, 1.1, 2.0, 1.3, 0.3, 0, 0, 0, 0, 0, 0, 0, 0, 0, 0, 0, 0, 0, 0, 0.3, 1.2, 0.7, 0.3, 0.1, 0, 0, 0, 0, 0, 0, 0, 0, 0, 0.1, 0.3, 0.5, 0.2, 0.1, 0.3, 3.2, 0.5, 0.2, 0.3, 0.8, 0.5, 0.4, 0.6, 1.4, 0.9, 0.3, 0.6, 0.6, 0.2, 0.2, 0.3, 0.5, 0.3, 0.6, 0.4],
    [0, 0.2, 0.9, 1.4, 1.0, 0.2, 0, 0, 0, 0, 0, 0, 0, 0, 0, 0, 0, 0, 0, 0, 0, 14.4, 1.2, 0.3, 0, 0, 0, 0, 0, 0, 0, 0, 0, 0, 0.2, 0.4, 0.8, 0.3, 0.2, 0.5, 1.2, 0.5, 0.3, 0.4, 0.9, 0.6, 0.5, 0.7, 1.8, 1.0, 0.5, 0.8, 0.8, 0.3, 0.2, 0.4, 0.7, 0.5, 0.6, 0.5],
    [0, 0.5, 2.6, 2.2, 1.2, 0.3, 0, 0, 0, 0, 0, 0, 0, 0, 0, 0, 0, 0, 0, 0, 0.2, 0.8, 0.5, 0.2, 0, 0, 0, 0, 0, 0, 0, 0.5, 1.5, 0.8, 0.3, 0.4, 0.7, 0.3, 0.2, 0.4, 1.1, 0.6, 0.2, 0.3, 0.8, 0.5, 0.4, 0.6, 1.5, 1.0, 0.4, 0.7, 0.9, 0.3, 0.2, 0.4, 0.5, 0.4, 0.6, 0.4],
    [0, 0.2, 0.8, 1.4, 1.0, 0.2, 0, 0, 0, 0, 0, 0, 0, 0, 0, 0, 0, 0, 0, 0, 0, 1.4, 3.8, 1.0, 0.4, 0, 0, 0, 0, 0, 0, 0, 0, 0, 0.2, 0.3, 0.6, 0.3, 0.2, 0.5, 1.4, 0.6, 0.2, 0.3, 0.8, 0.5, 0.4, 0.6, 1.6, 0.9, 0.4, 0.7, 0.8, 0.3, 0.2, 0.3, 0.6, 0.4, 0.5, 0.4],
    [0, 0.2, 0.8, 1.3, 0.9, 0.2, 0, 0, 0, 0, 0, 0, 0, 0, 0, 0, 0, 0, 0, 0, 0, 0.7, 0.4, 0.2, 0, 0, 0, 0, 0, 0, 0, 0, 0, 0, 0.2, 0.3, 0.6, 0.2, 0.1, 0.4, 1.1, 0.5, 0.2, 0.3, 0.8, 0.6, 0.6, 1.4, 4.2, 13.5, 2.6, 0.8, 0.7, 0.3, 0.2, 0.4, 0.6, 0.4, 0.5, 0.4],
    [0, 0.3, 1.2, 2.4, 1.3, 0.3, 0, 0, 0, 0, 0, 0, 0, 0, 0, 0, 0, 0, 0, 0, 1.2, 2.6, 1.0, 0.4, 0.2, 0, 0, 0, 0, 0, 0, 0, 0, 0, 0.2, 0.4, 0.8, 0.3, 0.2, 0.5, 1.3, 0.6, 0.3, 0.5, 1.0, 0.7, 0.5, 0.8, 2.2, 1.4, 3.2, 1.0, 0.9, 0.4, 0.3, 3.2, 1.2, 0.5, 2.6, 1.2],
    [0, 0.2, 0.7, 1.2, 0.9, 0.2, 0, 0, 0, 0, 0, 0, 0, 0, 0, 0, 0, 0, 0, 0, 0, 0.8, 0.4, 0.2, 0, 0, 0, 0, 0, 0, 0, 0, 0, 0, 0.2, 0.3, 0.5, 0.2, 0.1, 0.4, 1.0, 0.4, 0.2, 0.3, 4.0, 12.2, 6.0, 1.6, 1.2, 0.8, 0.3, 0.6, 0.7, 0.3, 0.2, 0.3, 0.5, 0.3, 0.5, 0.4],
    [0, 0.2, 0.8, 1.3, 0.9, 0.2, 0, 0, 0, 0, 0, 0, 0, 0, 0, 0, 0, 0, 0, 0, 0.1, 0.6, 0.3, 0.1, 0, 0, 0, 0, 0, 0, 0, 0, 0, 0, 0.1, 0.3, 0.5, 0.2, 0.1, 0.4, 0.9, 0.4, 0.2, 0.3, 0.7, 0.5, 0.4, 0.7, 1.4, 0.9, 0.3, 0.6, 0.7, 0.3, 2.6, 3.8, 0.6, 0.4, 0.5, 0.4],
    [0, 0.2, 0.7, 1.1, 0.8, 0.2, 0, 0, 0, 0, 0, 0, 0, 0, 0, 0, 0, 0, 0, 0, 0, 0.9, 0.5, 0.2, 0, 0, 0, 0, 0, 0, 0, 0, 0, 0, 0.2, 0.4, 0.6, 0.2, 0.1, 0.4, 1.2, 0.6, 0.2, 0.3, 0.9, 0.6, 4.4, 0.6, 1.5, 1.0, 0.4, 0.7, 0.8, 0.3, 0.2, 0.4, 0.6, 0.4, 0.5, 0.4],
    [0, 0.2, 0.9, 1.7, 1.1, 0.2, 0, 0, 0, 0, 0, 0, 0, 0, 0, 0, 0, 0, 0, 0, 0, 1.8, 0.8, 0.3, 0, 0, 0, 0, 0, 0, 0, 0, 0, 0, 0.3, 0.5, 0.8, 0.3, 0.2, 0.5, 1.4, 0.7, 0.3, 0.4, 1.1, 0.8, 0.5, 0.8, 2.0, 1.2, 0.5, 0.8, 0.9, 0.4, 0.3, 0.5, 0.8, 0.5, 0.7, 0.5],
    [0, 0.2, 0.8, 1.4, 1.0, 0.2, 0, 0, 0, 0, 0, 0, 0, 0, 0, 0, 0, 0, 0, 0, 0, 0.5, 0.3, 0.1, 0, 0, 0, 0, 0, 0, 0, 0, 0, 0, 0.2, 0.3, 0.6, 0.2, 0.1, 0.4, 1.0, 0.5, 0.2, 0.3, 0.8, 0.8, 3.2, 10.0, 2.0, 0.8, 0.4, 0.6, 0.7, 0.3, 0.2, 0.3, 0.5, 0.4, 0.5, 0.4],
    [0, 0.2, 0.8, 1.3, 0.9, 0.2, 0, 0, 0, 0, 0, 0, 0, 0, 0, 0, 0, 0, 0, 0, 0, 0.7, 0.4, 0.2, 0, 0, 0, 0, 0, 0, 0, 0, 0, 0, 0.2, 0.3, 2.4, 0.2, 0.1, 0.4, 1.0, 0.4, 0.2, 0.3, 0.8, 0.5, 0.4, 0.6, 1.5, 0.9, 0.4, 0.7, 0.7, 0.3, 0.2, 0.4, 0.5, 0.4, 0.6, 0.4],
    [0, 0.2, 0.9, 1.5, 1.0, 0.2, 0, 0, 0, 0, 0, 0, 0, 0, 0, 0, 0, 0, 0, 0, 0, 0.6, 0.3, 0.1, 0, 0, 0, 0, 0, 0, 0, 0, 0, 0, 0.1, 0.3, 0.7, 0.3, 0.2, 0.4, 1.2, 0.5, 0.2, 0.4, 0.9, 0.6, 0.4, 0.7, 1.7, 1.0, 0.4, 0.7, 0.8, 0.3, 0.2, 0.4, 1.2, 0.9, 0.6, 0.5],
    [0, 0.2, 0.7, 1.2, 0.9, 0.2, 0, 0, 0, 0, 0, 0, 0, 0, 0, 0, 0, 0, 0, 0, 0, 1.6, 2.3, 0.8, 2.3, 0.4, 0, 0, 0, 0, 0, 0, 0, 0, 0.2, 0.3, 0.6, 0.2, 0.1, 0.4, 1.0, 0.5, 0.2, 0.3, 0.8, 0.5, 0.4, 0.6, 1.5, 0.9, 0.4, 0.7, 0.8, 0.3, 0.2, 0.3, 0.6, 0.4, 0.5, 0.4],
    [0, 0.4, 1.8, 2.5, 1.3, 0.3, 0, 0, 0, 0, 0, 0, 0, 0, 0, 0, 0, 0, 0, 0, 0, 0.6, 0.3, 0.2, 0, 0, 0, 0, 0, 0, 0.2, 0.6, 1.5, 0.6, 0.3, 0.4, 0.7, 0.3, 0.2, 0.4, 1.0, 0.5, 0.2, 0.3, 0.7, 0.5, 0.4, 0.6, 1.4, 0.9, 0.3, 0.6, 0.7, 0.3, 0.2, 0.3, 0.5, 0.3, 0.5, 0.4],
    [0, 0.3, 1.0, 1.9, 1.2, 0.3, 0, 0, 0, 0, 0, 0, 0, 0, 0, 0, 0, 0, 0, 0, 0, 0.9, 0.5, 0.2, 0.1, 0, 0, 0, 0, 0, 0, 0.4, 1.9, 1.2, 0.4, 0.5, 0.9, 0.3, 0.2, 0.6, 5.9, 13.5, 11.6, 2.0, 1.2, 0.8, 0.5, 0.8, 2.2, 1.2, 0.5, 0.9, 1.0, 0.4, 0.3, 0.5, 0.9, 0.6, 1.8, 0.8],
    [0, 0.2, 0.8, 1.3, 0.9, 0.2, 0, 0, 0, 0, 0, 0, 0, 0, 0, 0, 0, 0, 0, 0, 0, 0.5, 0.3, 0.1, 0, 0, 0, 0, 0, 0, 0, 0, 0, 0, 0.2, 0.3, 0.5, 0.2, 0.1, 0.4, 0.9, 0.4, 0.2, 0.3, 0.7, 0.5, 0.4, 0.6, 1.3, 0.8, 0.3, 0.6, 3.4, 0.3, 0.2, 0.3, 0.5, 0.4, 0.5, 0.3],
    [0, 0.2, 0.9, 1.5, 1.0, 0.2, 0, 0, 0, 0, 0, 0, 0, 0, 0, 0, 0, 0, 0, 0, 0.3, 2.6, 1.4, 0.5, 0.2, 0, 0, 0, 0, 0, 0, 0, 0, 0, 0.2, 0.3, 0.6, 0.2, 0.1, 0.4, 1.1, 0.5, 0.2, 2.6, 0.8, 0.5, 0.4, 0.6, 1.6, 1.0, 0.4, 0.7, 0.8, 0.3, 0.2, 0.4, 0.6, 0.4, 0.5, 0.4],
    [0, 0.2, 0.7, 1.2, 0.9, 0.2, 0, 0, 0, 0, 0, 0, 0, 0, 0, 0, 0, 0, 0, 0, 0, 1.2, 0.6, 0.3, 0.1, 0, 0, 0, 0, 0, 0, 0, 0, 0, 0.3, 0.4, 0.7, 0.3, 0.2, 0.5, 1.2, 0.6, 0.3, 0.4, 0.9, 0.7, 0.5, 0.7, 1.8, 1.1, 0.5, 0.8, 0.9, 0.4, 0.3, 0.5, 0.7, 0.5, 0.6, 0.5],
    [0, 0.2, 0.8, 1.4, 1.0, 0.2, 0, 0, 0, 0, 0.4, 0.9, 1.0, 0.3, 0, 0, 0, 0, 0, 0, 0, 0.6, 0.3, 0.2, 0, 0, 0, 0, 0, 0, 0, 0, 0, 0, 0.2, 0.3, 0.6, 0.2, 0.1, 0.4, 1.0, 0.5, 0.2, 0.3, 0.8, 0.6, 0.4, 0.7, 1.6, 1.0, 0.4, 0.8, 0.9, 0.4, 1.2, 3.2, 5.7, 5.7, 8.3, 7.9],
    [0, 0.2, 0.8, 1.3, 0.9, 0.2, 0, 0, 0, 0, 0, 0, 0, 0, 0, 0, 0, 0, 0, 0, 0, 0.8, 2.0, 6.8, 2.3, 1.5, 0.4, 0, 0, 0, 0, 0, 0, 0, 0.2, 0.3, 0.6, 0.3, 0.2, 0.5, 1.1, 0.6, 0.3, 4.7, 1.6, 0.6, 0.4, 0.6, 1.6, 0.9, 0.4, 0.7, 0.8, 0.3, 0.2, 0.4, 0.6, 0.4, 0.5, 0.4],
    [0, 0.2, 0.8, 1.4, 1.0, 0.2, 0, 0, 0, 0, 0, 0, 0, 0, 0, 0, 0, 0, 0, 0, 0, 0.6, 0.3, 0.1, 0, 0, 0, 0, 0, 0, 0, 0, 0, 0, 0.2, 0.4, 0.6, 0.2, 0.3, 3.6, 9.1, 2.8, 0.4, 0.3, 0.8, 0.6, 0.4, 0.6, 1.4, 0.9, 0.4, 0.6, 0.7, 0.3, 0.2, 0.3, 0.5, 0.4, 0.5, 0.4],
    [0, 0.3, 1.0, 1.6, 1.1, 0.3, 0, 0, 0, 0, 0, 0, 0, 0, 0, 0, 0, 0, 0, 0, 0.6, 5.3, 2.5, 0.8, 0.3, 0, 0, 0, 0, 0, 0, 0, 0, 0, 0.2, 0.3, 0.6, 0.2, 0.1, 0.4, 1.0, 0.5, 0.2, 0.3, 0.8, 0.5, 0.4, 0.6, 1.8, 2.4, 4.0, 7.3, 6.2, 1.2, 0.4, 0.6, 1.5, 2.8, 4.8, 3.4],
    [0, 0.2, 0.8, 1.3, 0.9, 0.2, 0, 0, 0, 0, 0, 0, 0, 0, 0, 0, 0, 0, 0, 0, 0, 0.8, 0.4, 0.2, 0, 0, 0, 0, 0, 0, 0, 0, 0, 0, 0.2, 0.3, 0.6, 0.2, 0.1, 0.4, 1.0, 0.4, 0.2, 0.3, 0.8, 0.5, 0.4, 0.6, 1.5, 3.8, 0.4, 0.7, 0.8, 0.3, 0.2, 0.4, 0.6, 0.4, 0.5, 0.4],
    [0, 0.2, 0.8, 1.4, 1.0, 0.2, 0, 0, 0, 0, 0, 0, 0, 0, 0, 0, 0, 0, 0, 0, 0, 1.0, 0.5, 0.2, 0, 0, 0, 0, 0, 0, 0, 0, 0, 0, 0.2, 0.3, 0.6, 0.2, 0.1, 0.4, 1.1, 0.5, 0.3, 1.4, 7.9, 1.2, 0.5, 0.7, 1.6, 1.0, 0.4, 0.7, 0.8, 0.3, 0.2, 0.4, 0.6, 0.4, 0.5, 0.4],
    [0, 0.3, 1.1, 2.2, 1.3, 0.3, 0, 0, 0, 0, 0, 0, 0, 0, 0, 0, 0, 0, 0, 0, 3.0, 1.6, 0.6, 0.2, 0.1, 0, 0, 0, 0, 0, 0, 0, 0, 0, 0.2, 0.4, 0.7, 0.3, 0.2, 0.5, 1.3, 0.6, 0.3, 0.4, 6.6, 1.0, 0.5, 0.7, 1.7, 1.1, 0.4, 0.8, 0.9, 0.3, 0.2, 0.4, 0.7, 0.5, 0.6, 0.4],
    [0, 0.2, 0.7, 1.2, 0.9, 0.2, 0, 0, 0, 0, 0, 0, 0, 0, 0, 0, 0, 0, 0, 0, 0, 0.6, 0.3, 0.1, 0, 0, 0, 0, 0, 0, 0, 0, 0, 0, 0.2, 0.3, 0.5, 0.2, 0.1, 0.4, 1.0, 0.4, 0.2, 0.3, 0.7, 0.5, 0.4, 0.6, 1.3, 0.8, 0.3, 0.6, 0.7, 0.3, 0.2, 0.3, 0.5, 0.4, 0.5, 0.4],
    [0, 0.3, 1.0, 1.7, 1.1, 0.3, 0, 0, 0, 0, 0, 0, 0, 0, 0, 0, 0, 0, 0, 0, 0, 0.9, 0.5, 0.2, 0, 0, 0, 0, 0, 0, 0, 0, 0, 0, 0.2, 0.4, 0.7, 0.3, 0.2, 0.5, 1.2, 0.6, 0.3, 0.4, 0.9, 0.6, 0.4, 0.7, 2.0, 4.2, 3.6, 1.2, 0.9, 0.4, 2.8, 2.0, 1.0, 2.6, 1.4, 1.8],
    [0, 0.2, 0.8, 1.3, 0.9, 0.2, 0, 0, 0, 0, 0, 0, 0, 0, 0, 0, 0, 0, 0, 0, 0, 1.0, 0.5, 0.2, 0, 0, 0, 0, 0, 0, 0, 0, 0, 0, 0.2, 0.3, 0.6, 0.2, 0.1, 0.4, 1.0, 0.5, 0.2, 0.3, 0.8, 0.5, 0.4, 0.6, 1.5, 0.9, 0.4, 0.7, 0.8, 0.3, 0.2, 0.4, 4.0, 2.2, 0.5, 0.4],
    [0, 0.2, 0.7, 1.1, 0.8, 0.2, 0, 0, 0, 0, 0, 0, 0, 0, 0, 0, 0, 0, 0, 0, 0, 0.5, 0.3, 0.1, 0, 0, 0, 0, 0, 0, 0, 0, 0, 0, 0.1, 0.3, 0.5, 0.2, 2.0, 0.3, 0.9, 0.4, 0.2, 0.3, 0.7, 0.4, 0.3, 0.5, 1.2, 0.8, 0.3, 0.6, 0.6, 0.2, 0.2, 0.3, 0.5, 0.3, 0.4, 0.3],
    [0, 0.2, 0.8, 1.4, 1.0, 0.2, 0, 0, 0, 0, 0, 0, 0, 0, 0, 0, 0, 0, 0, 0, 0, 0.8, 0.4, 0.2, 0, 0, 0, 0, 0, 0, 0, 0, 0, 0, 0.2, 0.3, 0.6, 0.2, 0.2, 1.8, 7.3, 6.1, 1.0, 0.4, 0.8, 0.5, 0.4, 0.6, 1.5, 0.9, 0.4, 0.7, 0.8, 0.3, 0.2, 0.4, 0.6, 0.4, 0.5, 0.4],
    [0, 0.2, 0.8, 1.3, 0.9, 0.2, 0, 0, 0, 0, 0.2, 0.5, 0.4, 0, 0, 0, 0, 0, 0, 0, 0, 0.7, 0.4, 0.2, 0, 0, 0, 0, 0, 0, 0, 0, 0, 0, 0.2, 0.3, 0.6, 0.2, 0.1, 0.4, 1.0, 0.5, 0.2, 0.3, 0.8, 0.5, 0.4, 0.6, 1.6, 1.0, 0.4, 0.7, 0.8, 0.3, 0.2, 0.4, 0.6, 0.4, 3.0, 3.6],
    [0, 0.3, 0.9, 1.5, 1.0, 0.2, 0, 0, 0, 0, 0, 0, 0, 0, 0, 0, 0, 0, 0, 0, 0, 0.7, 0.4, 0.2, 0, 0, 0, 0, 0, 0, 0, 0, 0, 0, 0.2, 0.3, 0.6, 0.2, 0.1, 0.4, 1.1, 0.5, 0.2, 0.3, 0.8, 0.5, 0.4, 0.6, 1.5, 0.9, 0.4, 0.7, 0.8, 0.3, 0.2, 0.4, 0.6, 0.4, 2.0, 1.2],
]

for name, rows, n in [("t850", t850_members, len(temp_hours)), ("t500", t500_members, len(temp_hours)),
                      ("rain", rain_members, len(rain_hours))]:
    bad = [i + 1 for i, r in enumerate(rows) if len(r) != n]
    assert not bad and len(rows) == 50, (name, bad, len(rows))

W, H = 740, 700
fig = plt.figure(figsize=(W / 100, H / 100), dpi=100)
ax = fig.add_axes([50 / W, 100 / H, 640 / W, 600 / H])
ax.set_xlim(0, 360)
ax.set_ylim(-53.0, 32.95)
ax.set_xticks([])
ax.set_yticks([])
for side in ["left", "right", "bottom"]:
    ax.spines[side].set_linewidth(1.4)
    ax.spines[side].set_color("black")
ax.spines["top"].set_visible(False)

grid_col = "#c0c0c0"
for v in left_ticks:
    lw = 1.6 if v % 10 == 0 else 0.8
    ax.axhline(v, color=grid_col, lw=lw, zorder=0)
ax.axhline(0, color="#a0a0a0", lw=1.2, zorder=0)
for h in date_hours:
    ax.axvline(h, color=grid_col, lw=0.8, zorder=0)

# ensemble members
mk = dict(marker="+", ms=3, mew=0.6, lw=0.7, zorder=2)
for i in range(50):
    c = member_colors[i]
    ax.plot(temp_hours, t850_members[i], color=c, **mk)
    ax.plot(temp_hours, t500_members[i], color=c, **mk)
    ax.plot(rain_hours, np.array(rain_members[i]) + PRECIP_BASE, color=c, **mk)

# control and mean
for series in [t850_ctrl, t500_ctrl]:
    ax.plot(temp_hours, series, color="black", lw=2.8, zorder=3)
ax.plot(rain_hours, np.array(rain_ctrl) + PRECIP_BASE, color="black", lw=2.8, zorder=3)
for series in [t850_mean, t500_mean]:
    ax.plot(temp_hours, series, color="red", lw=3.2, zorder=4)
ax.plot(rain_hours, np.array(rain_mean) + PRECIP_BASE, color="red", lw=3.2, zorder=4)

fs = 7.2
# in-plot labels
fig.text(60 / W, 1 - 112 / H, "Temp. 850hPa", fontsize=fs, va="center", ha="left")
fig.text(60 / W, 1 - 266.5 / H, "Temp. 500hPa", fontsize=fs, va="center", ha="left")
fig.text(60 / W, 1 - 519 / H, "Précipitations", fontsize=fs, va="center", ha="left")

# y tick labels
ytr = mtransforms.blended_transform_factory(fig.transFigure, ax.transData)
for v, r in zip(left_ticks, right_ticks):
    fig.text(20 / W, v, str(v), transform=ytr, fontsize=fs, ha="left", va="top")
    fig.text(709 / W, v, str(r), transform=ytr, fontsize=fs, ha="left", va="top")
fig.text(20 / W, 1 - 601 / H, "(°C)", fontsize=fs, ha="left", va="top")
fig.text(709 / W, 1 - 601 / H, "(mm)", fontsize=fs, ha="left", va="top")

# date labels
xtr = mtransforms.blended_transform_factory(ax.transData, fig.transFigure)
for h, d in zip(date_hours, dates):
    fig.text(h + 3.9, 1 - 602 / H, d, transform=xtr, fontsize=fs, rotation=90,
             ha="center", va="top")

# legend
ly = 1 - 639.5 / H
fig.add_artist(Line2D([35 / W, 65 / W], [ly, ly], color="red", lw=3.6))
fig.text(74 / W, ly, "Moyenne des scénarios", fontsize=fs, va="center", ha="left")
fig.add_artist(Line2D([225 / W, 256 / W], [ly, ly], color="black", lw=3.6))
fig.text(264 / W, ly, "Contrôle/Det", fontsize=fs, va="center", ha="left")

fig.text(370 / W, 1 - 652 / H, "50 Perts.", fontsize=fs, va="center", ha="left")
for i in range(25):
    x0 = 429 + i * 10.96
    fig.text((x0 + 5) / W, 1 - 639.5 / H, "%02d" % (i + 1), fontsize=5.6,
             va="center", ha="center")
    fig.text((x0 + 5) / W, 1 - 661.5 / H, "%02d" % (i + 26), fontsize=5.6,
             va="center", ha="center")
    fig.add_artist(Rectangle((x0 / W, 1 - 650.7 / H), 10.2 / W, 5.7 / H,
                             facecolor=member_colors[i], edgecolor="none"))
    fig.add_artist(Rectangle((x0 / W, 1 - 656.6 / H), 10.2 / W, 5.7 / H,
                             facecolor=member_colors[i + 25], edgecolor="none"))

# title box
fig.add_artist(Rectangle((20 / W, 1 / H), 420 / W, 32 / H, facecolor="none",
                         edgecolor="black", lw=1.2))
fig.text(30 / W, 1 - 677.3 / H, "Diagramme ensembles ECMWF/CEP 0.25° sur 360h : 47.2N 8.3E",
         fontsize=8.3, fontweight="bold", va="center", ha="left")
fig.text(30 / W, 1 - 691.7 / H, "Températures 850hPa et 500hPa (°C) , précipitations (mm)",
         fontsize=fs, va="center", ha="left")
fig.text(449 / W, 1 - 675.3 / H, "Ensemble ECMWF/CEP du 02/07/2026 - 12Z",
         fontsize=fs, va="center", ha="left")
fig.text(449 / W, 1 - 692 / H, "Copyright 2026 Meteociel.fr - ECMWF",
         fontsize=8.3, fontweight="bold", va="center", ha="left")

fig.savefig("out.png", dpi=100)
